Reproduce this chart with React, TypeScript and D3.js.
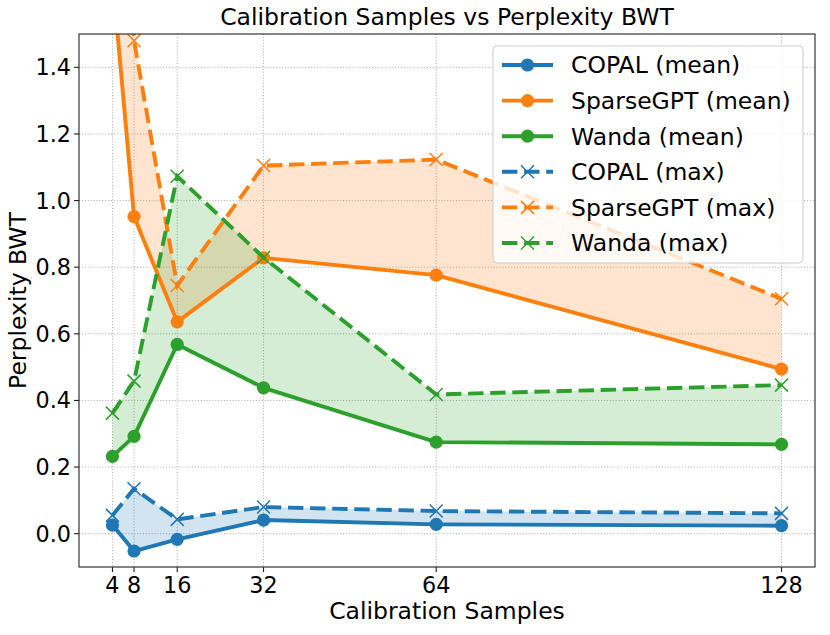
import React from "react";
import * as d3 from "d3";

const xs = [4, 8, 16, 32, 64, 128];
const copalMean = [0.026, -0.052, -0.017, 0.041, 0.028, 0.024];
const copalMax = [0.055, 0.135, 0.043, 0.08, 0.068, 0.061];
const sparseMean = [1.67, 0.952, 0.636, 0.828, 0.776, 0.494];
const sparseMax = [2.6, 1.48, 0.745, 1.105, 1.123, 0.705];
const wandaMean = [0.232, 0.292, 0.568, 0.438, 0.275, 0.268];
const wandaMax = [0.362, 0.458, 1.073, 0.829, 0.418, 0.446];
const yTicks = [0, 0.2, 0.4, 0.6, 0.8, 1.0, 1.2, 1.4];
const xTicks = [4, 8, 16, 32, 64, 128];
const names = ["COPAL", "SparseGPT", "Wanda"];
const colors = ["#1f77b4", "#ff7f0e", "#2ca02c"];

const W = 830, H = 635;
const L = 79, R = 815, T = 34, B = 567;
const FONT = "DejaVu Sans, sans-serif";

export default function App() {
  const x = d3.scaleLinear().domain([-2.2, 134.2]).range([L, R]);
  const y = d3.scaleLinear().domain([-0.1, 1.5]).range([B, T]);
  const means = [copalMean, sparseMean, wandaMean];
  const maxes = [copalMax, sparseMax, wandaMax];
  const line = d3.line<number>().x((_, i) => x(xs[i])).y((v) => y(v));
  const area = (lo: number[], hi: number[]) =>
    d3.area<number>().x((_, i) => x(xs[i])).y0((_, i) => y(lo[i])).y1((_, i) => y(hi[i]))(lo) as string;
  const lw = 3.9;
  const dash = "15.4,6.7";
  const xMark = (cx: number, cy: number, c: string, k: string) => {
    const s = 6.5;
    return (
      <path key={k} d={`M${cx - s},${cy - s}L${cx + s},${cy + s}M${cx - s},${cy + s}L${cx + s},${cy - s}`} stroke={c} strokeWidth={1.5} fill="none" />
    );
  };
  const legendRows = [
    ...names.map((n, i) => ({ label: `${n} (mean)`, c: colors[i], max: false })),
    ...names.map((n, i) => ({ label: `${n} (max)`, c: colors[i], max: true })),
  ];
  return (
    <svg width={W} height={H} style={{ position: "absolute", left: 0, top: 0, background: "#fff" }} fontFamily={FONT}>
      <defs>
        <clipPath id="clip">
          <rect x={L} y={T} width={R - L} height={B - T} />
        </clipPath>
      </defs>
      <rect x={0} y={0} width={W} height={H} fill="#fff" />
      {/* grid */}
      <g stroke="#b0b0b0" strokeWidth={1} strokeDasharray="1.1,1.8">
        {xTicks.map((t) => (
          <line key={"gx" + t} x1={x(t)} x2={x(t)} y1={T} y2={B} />
        ))}
        {yTicks.map((t) => (
          <line key={"gy" + t} x1={L} x2={R} y1={y(t)} y2={y(t)} />
        ))}
      </g>
      <g clipPath="url(#clip)">
        {names.map((n, i) => (
          <path key={"a" + n} d={area(means[i], maxes[i])} fill={colors[i]} fillOpacity={0.2} stroke="none" />
        ))}
        {names.map((n, i) => (
          <g key={"m" + n}>
            <path d={line(means[i]) as string} fill="none" stroke={colors[i]} strokeWidth={lw} strokeLinejoin="round" />
            {means[i].map((v, j) => (
              <circle key={j} cx={x(xs[j])} cy={y(v)} r={6.6} fill={colors[i]} />
            ))}
          </g>
        ))}
        {names.map((n, i) => (
          <g key={"x" + n}>
            <path d={line(maxes[i]) as string} fill="none" stroke={colors[i]} strokeWidth={lw} strokeDasharray={dash} />
            {maxes[i].map((v, j) => xMark(x(xs[j]), y(v), colors[i], "k" + j))}
          </g>
        ))}
      </g>
      {/* spines */}
      <rect x={L} y={T} width={R - L} height={B - T} fill="none" stroke="#222" strokeWidth={1.1} />
      {/* ticks */}
      {xTicks.map((t) => (
        <g key={"tx" + t}>
          <line x1={x(t)} x2={x(t)} y1={B} y2={B + 5} stroke="#222" strokeWidth={1.1} />
          <text x={x(t)} y={592.5} textAnchor="middle" fontSize={22.3} fill="#000">
            {t}
          </text>
        </g>
      ))}
      {yTicks.map((t) => (
        <g key={"ty" + t}>
          <line x1={L - 5} x2={L} y1={y(t)} y2={y(t)} stroke="#222" strokeWidth={1.1} />
          <text x={71} y={y(t)} dy="0.36em" textAnchor="end" fontSize={22.3} fill="#000">
            {t.toFixed(1)}
          </text>
        </g>
      ))}
      <text x={(L + R) / 2} y={25} textAnchor="middle" fontSize={23.5} fill="#000">
        Calibration Samples vs Perplexity BWT
      </text>
      <text x={(L + R) / 2} y={618.5} textAnchor="middle" fontSize={23.5} fill="#000">
        Calibration Samples
      </text>
      <text transform={`translate(26,${(T + B) / 2}) rotate(-90)`} textAnchor="middle" fontSize={23.5} fill="#000">
        Perplexity BWT
      </text>
      {/* legend */}
      <g>
        <rect x={493} y={46} width={310} height={217} rx={4} fill="#fff" fillOpacity={0.8} stroke="#cccccc" strokeWidth={1} />
        {legendRows.map((r, i) => {
          const ry = 65 + i * 35.6;
          return (
            <g key={"lg" + i}>
              {r.max ? (
                <>
                  <line x1={502} x2={553} y1={ry} y2={ry} stroke={r.c} strokeWidth={lw} strokeDasharray={dash} />
                  {xMark(527.5, ry, r.c, "lm" + i)}
                </>
              ) : (
                <>
                  <line x1={502} x2={553} y1={ry} y2={ry} stroke={r.c} strokeWidth={lw} />
                  <circle cx={527.5} cy={ry} r={6.6} fill={r.c} />
                </>
              )}
              <text x={571} y={ry} dy="0.36em" fontSize={23.5} fill="#000">
                {r.label}
              </text>
            </g>
          );
        })}
      </g>
    </svg>
  );
}
